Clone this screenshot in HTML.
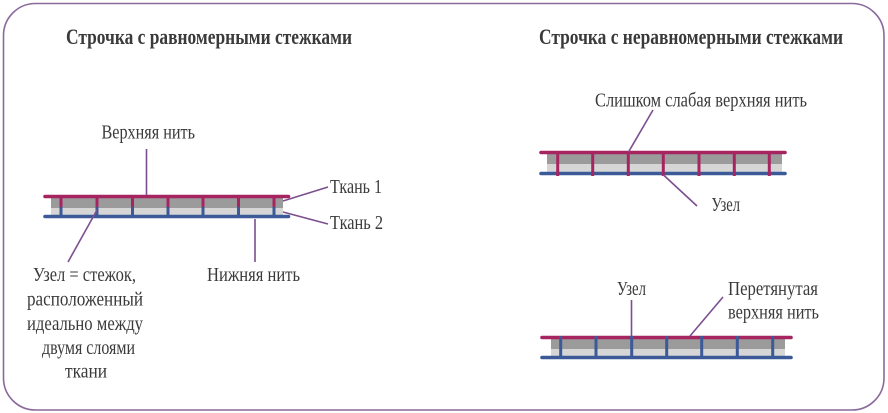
<!DOCTYPE html>
<html>
<head>
<meta charset="utf-8">
<style>
  html, body { margin: 0; padding: 0; background: #ffffff; }
  svg { display: block; }
  .lbl { font-family: "Liberation Serif", "Noto Serif CJK SC", serif; font-size: 20px; fill: #3a3a3a; }
  .ttl { font-family: "Liberation Serif", "Noto Serif CJK SC", serif; font-size: 22px; font-weight: bold; fill: #3a3a3a; }
  .ld { stroke: #7b4f8f; stroke-width: 1.6; fill: none; }
  .red { stroke: #a62560; }
  .blue { stroke: #3d5a98; }
</style>
</head>
<body>
<svg width="888" height="413" viewBox="0 0 888 413" xmlns="http://www.w3.org/2000/svg">
  <!-- frame -->
  <rect x="3.5" y="3.5" width="880.5" height="406.5" rx="32" ry="32" fill="#ffffff" stroke="#8a6a9c" stroke-width="1.6"/>

  <!-- titles -->
  <text class="ttl" x="66" y="44" textLength="286" lengthAdjust="spacingAndGlyphs">Строчка с равномерными стежками</text>
  <text class="ttl" x="539" y="44" textLength="304" lengthAdjust="spacingAndGlyphs">Строчка с неравномерными стежками</text>

  <!-- ===== Left diagram ===== -->
  <rect x="51" y="198" width="232" height="10" fill="#9b9b9b"/>
  <rect x="51" y="208" width="232" height="7" fill="#d6d6d6"/>
  <g stroke-width="3" fill="none">
    <g class="red">
      <line x1="61" y1="196" x2="61" y2="207"/>
      <line x1="97" y1="196" x2="97" y2="207"/>
      <line x1="132.5" y1="196" x2="132.5" y2="207"/>
      <line x1="168" y1="196" x2="168" y2="207"/>
      <line x1="203" y1="196" x2="203" y2="207"/>
      <line x1="238.5" y1="196" x2="238.5" y2="207"/>
      <line x1="274" y1="196" x2="274" y2="207"/>
    </g>
    <g class="blue">
      <line x1="61" y1="207" x2="61" y2="216"/>
      <line x1="97" y1="207" x2="97" y2="216"/>
      <line x1="132.5" y1="207" x2="132.5" y2="216"/>
      <line x1="168" y1="207" x2="168" y2="216"/>
      <line x1="203" y1="207" x2="203" y2="216"/>
      <line x1="238.5" y1="207" x2="238.5" y2="216"/>
      <line x1="274" y1="207" x2="274" y2="216"/>
    </g>
  </g>
  <line class="red" x1="45" y1="196.5" x2="288.5" y2="196.5" stroke-width="3.6" stroke-linecap="round"/>
  <line class="blue" x1="45" y1="216.5" x2="288.5" y2="216.5" stroke-width="3.6" stroke-linecap="round"/>

  <!-- left leaders -->
  <line class="ld" x1="146.5" y1="149" x2="146.5" y2="195"/>
  <line class="ld" x1="283" y1="201" x2="328" y2="187"/>
  <line class="ld" x1="283" y1="212" x2="328" y2="224"/>
  <line class="ld" x1="97" y1="210" x2="68" y2="262"/>
  <line class="ld" x1="255" y1="219" x2="255" y2="262"/>

  <!-- left labels -->
  <text class="lbl" x="101.5" y="138.5" textLength="93.5" lengthAdjust="spacingAndGlyphs">Верхняя нить</text>
  <text class="lbl" x="330" y="193" textLength="52" lengthAdjust="spacingAndGlyphs">Ткань 1</text>
  <text class="lbl" x="330" y="229" textLength="53" lengthAdjust="spacingAndGlyphs">Ткань 2</text>
  <text class="lbl" x="207" y="281" textLength="93" lengthAdjust="spacingAndGlyphs">Нижняя нить</text>
  <text class="lbl" x="33" y="281" textLength="103" lengthAdjust="spacingAndGlyphs">Узел = стежок,</text>
  <text class="lbl" x="27" y="305.5" textLength="116" lengthAdjust="spacingAndGlyphs">расположенный</text>
  <text class="lbl" x="27" y="330" textLength="116" lengthAdjust="spacingAndGlyphs">идеально между</text>
  <text class="lbl" x="42" y="354" textLength="93" lengthAdjust="spacingAndGlyphs">двумя слоями</text>
  <text class="lbl" x="65" y="377.5" textLength="42" lengthAdjust="spacingAndGlyphs">ткани</text>

  <!-- ===== Right top diagram ===== -->
  <rect x="547" y="154" width="235" height="10" fill="#9b9b9b"/>
  <rect x="547" y="164" width="235" height="8" fill="#d6d6d6"/>
  <line class="blue" x1="541" y1="173.5" x2="785" y2="173.5" stroke-width="3.6" stroke-linecap="round"/>
  <g class="red" stroke-width="3" fill="none">
    <line x1="557.7" y1="152" x2="557.7" y2="176"/>
    <line x1="592.7" y1="152" x2="592.7" y2="176"/>
    <line x1="628.3" y1="152" x2="628.3" y2="176"/>
    <line x1="663.3" y1="152" x2="663.3" y2="176"/>
    <line x1="699" y1="152" x2="699" y2="176"/>
    <line x1="734.3" y1="152" x2="734.3" y2="176"/>
    <line x1="769.3" y1="152" x2="769.3" y2="176"/>
  </g>
  <line class="red" x1="541" y1="152.5" x2="785" y2="152.5" stroke-width="3.6" stroke-linecap="round"/>

  <line class="ld" x1="653" y1="110" x2="628.5" y2="152"/>
  <line class="ld" x1="663.5" y1="175" x2="697" y2="206"/>

  <text class="lbl" x="595" y="106.5" textLength="212" lengthAdjust="spacingAndGlyphs">Слишком слабая верхняя нить</text>
  <text class="lbl" x="711.5" y="211" textLength="28.5" lengthAdjust="spacingAndGlyphs">Узел</text>

  <!-- ===== Right bottom diagram ===== -->
  <rect x="551" y="339" width="234" height="10" fill="#9b9b9b"/>
  <rect x="551" y="349" width="234" height="7" fill="#d6d6d6"/>
  <line class="red" x1="542" y1="337.5" x2="791" y2="337.5" stroke-width="3.6" stroke-linecap="round"/>
  <g class="blue" stroke-width="3" fill="none">
    <line x1="560.7" y1="336" x2="560.7" y2="358"/>
    <line x1="596" y1="336" x2="596" y2="358"/>
    <line x1="631.7" y1="336" x2="631.7" y2="358"/>
    <line x1="666.7" y1="336" x2="666.7" y2="358"/>
    <line x1="701.7" y1="336" x2="701.7" y2="358"/>
    <line x1="737.3" y1="336" x2="737.3" y2="358"/>
    <line x1="772.7" y1="336" x2="772.7" y2="358"/>
  </g>
  <line class="blue" x1="542" y1="357.5" x2="791" y2="357.5" stroke-width="3.6" stroke-linecap="round"/>

  <line class="ld" x1="631.5" y1="300" x2="631.5" y2="336"/>
  <line class="ld" x1="723" y1="297" x2="690" y2="336"/>

  <text class="lbl" x="617" y="295" textLength="29" lengthAdjust="spacingAndGlyphs">Узел</text>
  <text class="lbl" x="728" y="295" textLength="90" lengthAdjust="spacingAndGlyphs">Перетянутая</text>
  <text class="lbl" x="728" y="318.5" textLength="91" lengthAdjust="spacingAndGlyphs">верхняя нить</text>
</svg>
</body>
</html>
